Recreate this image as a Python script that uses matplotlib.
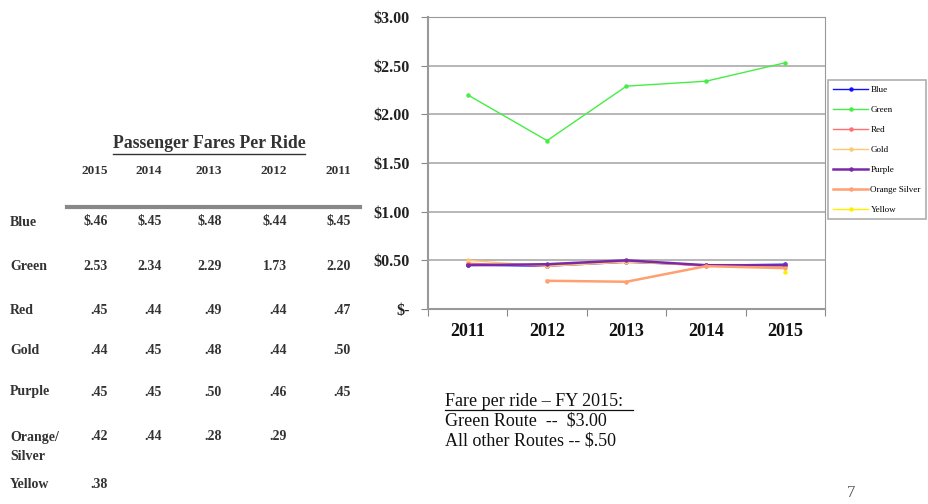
import numpy as np
import matplotlib
matplotlib.use('Agg')
import matplotlib.pyplot as plt

# data: fares per ride, table order 2015 -> 2011
years_table = ['2015', '2014', '2013', '2012', '2011']
routes = ['Blue', 'Green', 'Red', 'Gold', 'Purple', 'Orange/\nSilver', 'Yellow']
blue = [0.46, 0.45, 0.48, 0.44, 0.45]
green = [2.53, 2.34, 2.29, 1.73, 2.20]
red = [0.45, 0.44, 0.49, 0.44, 0.47]
gold = [0.44, 0.45, 0.48, 0.44, 0.50]
purple = [0.45, 0.45, 0.50, 0.46, 0.45]
orange_silver = [0.42, 0.44, 0.28, 0.29, None]
yellow = [0.38, None, None, None, None]

legend_names = ['Blue', 'Green', 'Red', 'Gold', 'Purple', 'Orange Silver', 'Yellow']
line_colors = ['#1010ff', '#44ee44', '#ff6f6f', '#ffc870', '#7a2aa8', '#ffa070', '#ffee00']
line_widths = [1.0, 1.0, 1.0, 1.0, 1.8, 1.8, 1.0]

W, H = 929, 504
fig = plt.figure(figsize=(W / 100, H / 100), dpi=100)
fig.patch.set_facecolor('white')

def px(x, y):
    return x / W, 1 - y / H

serif = 'Liberation Serif'
tcol = '#333333'

# ---- table on the left ----
tx, ty = px(209, 144)
fig.text(tx, ty, 'Passenger Fares Per Ride', family=serif, fontsize=12.8,
         fontweight='bold', color=tcol, ha='center', va='center')
fig.add_artist(plt.Line2D([113 / W, 305 / W], [1 - 154 / H] * 2, color=tcol, lw=1))

col_right = [108, 162, 222, 287, 351]
for i, yr in enumerate(years_table):
    x, y = px(col_right[i], 171)
    fig.text(x, y, yr, family=serif, fontsize=9.5, fontweight='bold',
             color=tcol, ha='right', va='center')
fig.add_artist(plt.Line2D([67 / W, 360 / W], [1 - 207 / H] * 2, color='#888888', lw=3))

rows = [blue, green, red, gold, purple, orange_silver, yellow]
row_y = [222, 266, 310, 350, 392, 437, 485]
for r, (name, vals, yy) in enumerate(zip(routes, rows, row_y)):
    for k, part in enumerate(name.split('\n')):
        x, y = px(10, yy + 19 * k)
        fig.text(x, y, part, family=serif, fontsize=10, fontweight='bold', color=tcol, va='center')
    for i, v in enumerate(vals):
        if v is None:
            continue
        s = f'{v:.2f}'
        if v < 1:
            s = s.lstrip('0')
        if r == 0:
            s = '$' + s
        x, y = px(col_right[i], yy)
        fig.text(x, y, s, family=serif, fontsize=10, fontweight='bold',
                 color=tcol, ha='right', va='center')

# ---- line chart ----
ax = fig.add_axes([428 / W, 1 - 309 / H, (825 - 428) / W, (309 - 17) / H])
chart_years = years_table[::-1]
xpos = np.arange(len(chart_years))
for name, vals, c, lw in zip(legend_names, rows, line_colors, line_widths):
    v = np.array([np.nan if a is None else a for a in vals[::-1]], dtype=float)
    ax.plot(xpos, v, color=c, lw=lw, marker='o', markersize=2.2, label=name)

ax.set_xlim(-0.5, 4.5)
ax.set_ylim(0, 3)
ax.set_yticks(np.arange(0, 3.01, 0.5))
ax.set_yticklabels(['$-', '$0.50', '$1.00', '$1.50', '$2.00', '$2.50', '$3.00'],
                   family=serif, fontweight='bold', fontsize=11.5, color='#222222')
ax.yaxis.grid(True, color='#aaaaaa', lw=1.2)
ax.set_axisbelow(True)
ax.set_xticks(np.arange(-0.5, 4.6, 1))
ax.set_xticklabels([])
ax.set_xticks(xpos, minor=True)
ax.set_xticklabels(chart_years, minor=True, family=serif, fontweight='bold', fontsize=13,
                   color='#111111')
ax.tick_params(axis='x', which='minor', length=0, pad=10)
ax.tick_params(axis='both', which='major', length=5, color='#888888')
ax.tick_params(axis='y', pad=8)
for s in ax.spines.values():
    s.set_color('#999999')
ax.spines['left'].set_linewidth(1.5)
ax.spines['bottom'].set_linewidth(1.5)

leg = fig.legend(loc='upper left', bbox_to_anchor=(828 / W, 1 - 80 / H),
                 prop={'family': serif, 'size': 6.5}, frameon=True, fancybox=False,
                 edgecolor='#999999', handlelength=3.8, labelspacing=1.3,
                 borderpad=0.6, handletextpad=0.3, borderaxespad=0)
leg.get_frame().set_linewidth(1.2)

# ---- notes ----
ncol = '#111111'
x, y = px(445, 401)
fig.text(x, y, 'Fare per ride \u2013 FY 2015:', family=serif, fontsize=13, va='center', color=ncol)
fig.add_artist(plt.Line2D([445 / W, 633 / W], [1 - 410 / H] * 2, color=ncol, lw=0.9))
x, y = px(445, 421)
fig.text(x, y, 'Green Route  --  $3.00', family=serif, fontsize=13, va='center', color=ncol)
x, y = px(445, 441)
fig.text(x, y, 'All other Routes -- $.50', family=serif, fontsize=13, va='center', color=ncol)
x, y = px(851, 493)
fig.text(x, y, '7', family=serif, fontsize=12, va='center', ha='center', color='#555555')

fig.savefig('out.png', dpi=100)
